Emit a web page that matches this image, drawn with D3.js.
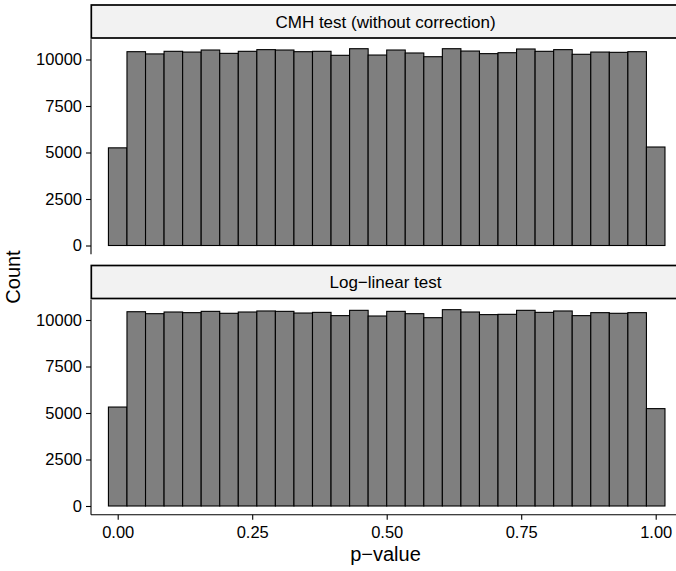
<!DOCTYPE html>
<html>
<head>
<meta charset="utf-8">
<script src="https://cdn.jsdelivr.net/npm/d3@7"></script>
<style>
html,body{margin:0;padding:0;background:#fff;}
svg{display:block;}
text{font-family:"Liberation Sans",Arial,Helvetica,sans-serif;fill:#000;}
</style>
</head>
<body>
<svg id="chart" width="676" height="571"></svg>
<script>
// ---- data ----
const facetLabels = ["CMH test (without correction)", "Log\u2212linear test"];
const cmhCounts = [5250, 10420, 10300, 10440, 10400, 10510, 10330, 10440, 10530, 10510,
                   10420, 10440, 10225, 10580, 10240, 10510, 10350, 10150, 10580, 10455,
                   10315, 10365, 10565, 10440, 10530, 10280, 10400, 10385, 10420, 5295];
const loglinCounts = [5320, 10445, 10340, 10430, 10395, 10465, 10360, 10430, 10485, 10465,
                      10375, 10410, 10235, 10520, 10215, 10465, 10340, 10125, 10555, 10430,
                      10290, 10305, 10520, 10410, 10485, 10235, 10395, 10360, 10395, 5235];
const xTicks = [0, 0.25, 0.5, 0.75, 1];
const xTickLabels = ["0.00", "0.25", "0.50", "0.75", "1.00"];
const yTicks = [0, 2500, 5000, 7500, 10000];
const nBins = 30;
const binWidth = 1 / (nBins - 1);

// ---- layout ----
const svg = d3.select("#chart");
const panelLeft = 91, panelRight = 682;
const x = d3.scaleLinear().domain([0, 1]).range([117.7, 655.7]);
const y = d3.scaleLinear().domain([0, 10000]).range([245.5, 59.5]);
const panelTop = 39.2, panelBottom = 254.3;
const offsets = [0, 260.5];
const series = [cmhCounts, loglinCounts];

series.forEach((vals, p) => {
  const g = svg.append("g").attr("transform", `translate(0,${offsets[p]})`);
  // strip
  g.append("rect")
    .attr("x", panelLeft + 0.3).attr("y", 5)
    .attr("width", panelRight - panelLeft + 10).attr("height", 33)
    .attr("fill", "#F2F2F2").attr("stroke", "#000").attr("stroke-width", 1.7);
  g.append("text")
    .attr("x", (panelLeft + 680) / 2).attr("y", 27.5)
    .attr("text-anchor", "middle").attr("font-size", 17)
    .text(facetLabels[p]);

  // bars
  const bins = vals.map((v, i) => ({x0: (i - 0.5) * binWidth, x1: (i + 0.5) * binWidth, v}));
  g.append("g").selectAll("rect").data(bins).join("rect")
    .attr("x", d => x(d.x0))
    .attr("width", d => x(d.x1) - x(d.x0))
    .attr("y", d => y(d.v))
    .attr("height", d => y(0) - y(d.v))
    .attr("fill", "#7F7F7F").attr("stroke", "#000").attr("stroke-width", 1.1);

  // y axis
  const yAxis = d3.axisLeft(y).tickValues(yTicks).tickSize(5).tickPadding(4).tickFormat(d3.format("d"));
  const ya = g.append("g").attr("transform", `translate(${panelLeft},0)`).call(yAxis);
  ya.select(".domain").remove();
  ya.append("line").attr("x1", 0).attr("x2", 0).attr("y1", panelTop).attr("y2", panelBottom)
    .attr("stroke", "#000").attr("stroke-width", 1.1);
  ya.selectAll(".tick line").attr("stroke", "#000").attr("stroke-width", 1.1);
  ya.selectAll(".tick text").attr("font-size", 16.5).attr("fill", "#000")
    .attr("font-family", "Liberation Sans, Arial, sans-serif");

  if (p === 1) {
    const xAxis = d3.axisBottom(x).tickValues(xTicks).tickSize(5).tickPadding(6)
      .tickFormat((d, i) => xTickLabels[i]);
    const xa = g.append("g").attr("transform", `translate(0,${panelBottom})`).call(xAxis);
    xa.select(".domain").remove();
    xa.append("line").attr("x1", panelLeft).attr("x2", panelRight).attr("y1", 0).attr("y2", 0)
      .attr("stroke", "#000").attr("stroke-width", 1.1);
    xa.selectAll(".tick line").attr("stroke", "#000").attr("stroke-width", 1.1);
    xa.selectAll(".tick text").attr("font-size", 16.5).attr("fill", "#000")
      .attr("font-family", "Liberation Sans, Arial, sans-serif");
  }
});

// axis titles
svg.append("text").attr("x", (panelLeft + 680) / 2).attr("y", 561)
  .attr("text-anchor", "middle").attr("font-size", 20).text("p\u2212value");
svg.append("text").attr("transform", "translate(20,277) rotate(-90)")
  .attr("text-anchor", "middle").attr("font-size", 20).text("Count");
</script>
</body>
</html>
